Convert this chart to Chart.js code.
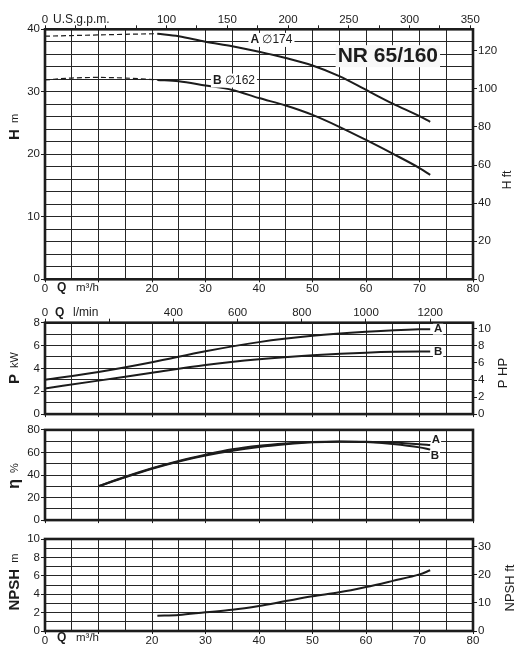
<!DOCTYPE html>
<html><head><meta charset="utf-8">
<script src="https://cdn.jsdelivr.net/npm/chart.js@4.4.0/dist/chart.umd.min.js"></script>
<style>
html,body{margin:0;padding:0;background:#fff;width:518px;height:658px;overflow:hidden}
.pn{position:absolute;left:0;width:518px}
</style></head><body>
<div class="pn" style="top:0px;height:300px"><canvas id="c1"></canvas></div>
<div class="pn" style="top:296px;height:126px"><canvas id="c2"></canvas></div>
<div class="pn" style="top:422px;height:106px"><canvas id="c3"></canvas></div>
<div class="pn" style="top:528px;height:130px"><canvas id="c4"></canvas></div>
<script>
// ---------- data ----------
const qHead      = [21, 25, 30, 35, 40, 45, 50, 55, 60, 65, 70, 72];
const headA      = [39.3, 38.9, 38.0, 37.3, 36.4, 35.4, 34.2, 32.5, 30.3, 28.1, 26.1, 25.2];
const headB      = [31.9, 31.7, 31.0, 30.3, 29.0, 27.8, 26.3, 24.4, 22.3, 20.1, 17.8, 16.7];
const qHeadDash  = [0, 5, 10, 15, 21];
const headADash  = [38.9, 39.0, 39.1, 39.2, 39.3];
const headBDash  = [31.9, 32.2, 32.3, 32.2, 31.9];

const qPower = [0, 10, 20, 30, 40, 50, 60, 70, 72];
const powerA = [3.0, 3.68, 4.53, 5.5, 6.3, 6.85, 7.2, 7.42, 7.43];
const powerB = [2.25, 2.93, 3.62, 4.3, 4.8, 5.15, 5.38, 5.47, 5.47];

const qEff = [10, 15, 20, 25, 30, 35, 40, 45, 50, 55, 60, 65, 70, 72];
const effA = [30, 38.5, 46, 52.5, 58, 62.8, 66, 68, 69.3, 69.8, 69.6, 68.8, 67.3, 66.5];
const effB = [30, 38, 45.5, 52, 57.3, 61.5, 64.8, 67.2, 69, 69.6, 69.2, 67.5, 64.5, 62.5];

const qNpsh = [21, 25, 30, 35, 40, 45, 50, 55, 60, 65, 70, 72];
const npsh  = [1.67, 1.74, 2.03, 2.3, 2.72, 3.25, 3.77, 4.2, 4.78, 5.45, 6.15, 6.6];

// ---------- axes / ticks ----------
const flowGrid   = [0,5,10,15,20,25,30,35,40,45,50,55,60,65,70,75,80];
const flowLabels = [0,20,30,40,50,60,70,80];
const flowMarks  = [0,10,20,30,40,50,60,70,80];
const gpmGrid    = [0,25,50,75,100,125,150,175,200,225,250,275,300,325,350];
const gpmLabels  = [0,100,150,200,250,300,350];
const lminGrid   = [0,200,400,600,800,1000,1200];
const lminLabels = [0,400,600,800,1000,1200];
const headGrid   = [0,2,4,6,8,10,12,14,16,18,20,22,24,26,28,30,32,34,36,38,40];
const headLabels = [0,10,20,30,40];
const headFtTicks= [0,20,40,60,80,100,120];
const powGrid    = [0,1,2,3,4,5,6,7,8];
const powLabels  = [0,2,4,6,8];
const hpTicks    = [0,2,4,6,8,10];
const effGrid    = [0,10,20,30,40,50,60,70,80];
const effLabels  = [0,20,40,60,80];
const npshGrid   = [0,1,2,3,4,5,6,7,8,9,10];
const npshLabels = [0,2,4,6,8,10];
const npshFtTicks= [0,10,20,30];

const FT_PER_M = 3.28084, HP_PER_KW = 1.34102, GPM_PER_M3H = 4.40287, LMIN_PER_M3H = 1000/60;
const Q_MAX = 80;

// ---------- style ----------
const FONT = '"Liberation Sans", Arial, Helvetica, sans-serif';
const INK = '#1c1c1c', GRID = '#262626', T = 'rgba(0,0,0,0)';
const TICKFONT = {family: FONT, size: 11.5};

function pts(xs, ys){ return xs.map((x,i)=>({x:x, y:ys[i]})); }
function setTicks(vals){ return s => { s.ticks = vals.map(v=>({value:v})); }; }

function leftAxis(min,max,grid,labels){
  return { type:'linear', position:'left', min:min, max:max,
    afterBuildTicks:setTicks(grid), afterFit:s=>{s.width=45;},
    ticks:{autoSkip:false, padding:1, color:INK, font:TICKFONT, callback:v=>labels.includes(v)?String(v):''},
    grid:{color:GRID, lineWidth:1, tickLength:4, tickColor:c=>(c.tick&&labels.includes(c.tick.value))?INK:T},
    border:{display:false}};
}
function rightAxis(max,ticks){
  return { type:'linear', position:'right', min:0, max:max,
    afterBuildTicks:setTicks(ticks), afterFit:s=>{s.width=45;},
    ticks:{autoSkip:false, padding:1, color:INK, font:TICKFONT, callback:v=>String(v)},
    grid:{drawOnChartArea:false, color:INK, lineWidth:1, tickLength:4},
    border:{display:false}};
}
function bottomAxis(h, showLabels){
  return { type:'linear', position:'bottom', min:0, max:Q_MAX,
    afterBuildTicks:setTicks(flowGrid), afterFit:s=>{s.height=h;},
    ticks:{autoSkip:false, maxRotation:0, padding:0, color:INK, font:TICKFONT,
      callback:v=>(showLabels&&flowLabels.includes(v))?String(v):''},
    grid:{color:GRID, lineWidth:1, tickLength:3, tickColor:c=>(c.tick&&flowMarks.includes(c.tick.value))?INK:T},
    border:{display:false}};
}
function topAxis(max,h,grid,labels){
  return { type:'linear', position:'top', min:0, max:max,
    afterBuildTicks:setTicks(grid), afterFit:s=>{s.height=h;},
    ticks:{autoSkip:false, maxRotation:0, padding:-1, color:INK, font:TICKFONT,
      callback:v=>labels.includes(v)?String(v):''},
    grid:{drawOnChartArea:false, color:INK, lineWidth:1, tickLength:4},
    border:{display:false}};
}

function solid(data){ return {data:data, borderColor:INK, borderWidth:2, pointRadius:0, fill:false, cubicInterpolationMode:'monotone'}; }
function dashed(data){ return {data:data, borderColor:INK, borderWidth:1.2, borderDash:[5,3], pointRadius:0, fill:false, cubicInterpolationMode:'monotone'}; }

function f(weight,size){ return (weight?'bold ':'')+size+'px '+FONT; }

function drawRich(ctx, parts, x, y, rot, anchor, bg){
  ctx.save(); ctx.translate(x,y); if(rot) ctx.rotate(rot*Math.PI/180);
  const widths = parts.map(p=>{ctx.font=p.f; return ctx.measureText(p.t).width;});
  const total = widths.reduce((a,b)=>a+b,0);
  let sx = anchor==='center' ? -total/2 : (anchor==='right' ? -total : 0);
  if(bg){ ctx.fillStyle=bg.c; ctx.fillRect(sx-bg.p, -bg.h/2, total+2*bg.p, bg.h); }
  ctx.textBaseline='middle'; ctx.fillStyle=INK; ctx.textAlign='left';
  let cx = sx;
  parts.forEach((p,i)=>{ ctx.font=p.f; ctx.fillText(p.t, cx, p.dy||0); cx+=widths[i]; });
  ctx.restore();
}

function makePlugins(pageTop, notes){
  return [{
    id:'frameNotes',
    afterDraw(chart){
      const ctx = chart.ctx, a = chart.chartArea;
      ctx.save(); ctx.strokeStyle=INK; ctx.lineWidth=2.6;
      ctx.strokeRect(a.left, a.top, a.right-a.left, a.bottom-a.top); ctx.restore();
      notes.forEach(n=>{
        let x, y;
        if(n.q!==undefined){ x = chart.scales.x.getPixelForValue(n.q); y = chart.scales.y.getPixelForValue(n.v); }
        else { x = n.px; y = n.py - pageTop; }
        drawRich(ctx, n.parts, x, y, n.rot||0, n.anchor||'left', n.bg);
      });
    }
  }];
}

function build(id, pageTop, scales, datasets, padding, notes){
  return new Chart(document.getElementById(id), {
    type:'line',
    data:{datasets:datasets},
    options:{responsive:true, maintainAspectRatio:false, animation:false, events:[],
      layout:{padding:padding},
      plugins:{legend:{display:false}, tooltip:{enabled:false}},
      scales:scales},
    plugins: makePlugins(pageTop, notes)
  });
}

const WHITE = {c:'#ffffff', p:2, h:14};

// Panel 1 : head
build('c1', 0, {
    x: bottomAxis(20.7, true),
    x2: topAxis(Q_MAX*GPM_PER_M3H, 29.3, gpmGrid, gpmLabels),
    y: leftAxis(0,40,headGrid,headLabels),
    y2: rightAxis(40*FT_PER_M, headFtTicks)
  },
  [solid(pts(qHead,headA)), solid(pts(qHead,headB)), dashed(pts(qHeadDash,headADash)), dashed(pts(qHeadDash,headBDash))],
  0,
  [
    {q:38.4, v:38.3, parts:[{t:'A ',f:f(1,12)},{t:'\u2205174',f:f(0,12)}], bg:WHITE},
    {q:31.4, v:31.8, parts:[{t:'B ',f:f(1,12)},{t:'\u2205162',f:f(0,12)}], bg:WHITE},
    {q:54.7, v:35.7, parts:[{t:'NR 65/160',f:f(1,21)}], bg:{c:'#f8f8f8',p:2,h:22}},
    {px:15, py:127, rot:-90, anchor:'center', parts:[{t:'H',f:f(1,15)},{t:'  m',f:f(0,11)}]},
    {px:508, py:180, rot:-90, anchor:'center', parts:[{t:'H ft',f:f(0,12)}]},
    {px:53, py:19.5, parts:[{t:'U.S.g.p.m.',f:f(0,12)}]},
    {px:57, py:288, parts:[{t:'Q',f:f(1,12)}]},
    {px:76, py:288, parts:[{t:'m\u00b3/h',f:f(0,11.5)}]}
  ]);

// Panel 2 : power
build('c2', 296, {
    x: bottomAxis(5.3, false),
    x2: topAxis(Q_MAX*LMIN_PER_M3H, 26.7, lminGrid, lminLabels),
    y: leftAxis(0,8,powGrid,powLabels),
    y2: rightAxis(8*HP_PER_KW, hpTicks)
  },
  [solid(pts(qPower,powerA)), solid(pts(qPower,powerB))],
  0,
  [
    {q:qPower[qPower.length-1]+0.7, v:powerA[powerA.length-1], parts:[{t:'A',f:f(1,11.5)}], bg:{c:'#fff',p:1,h:11}},
    {q:qPower[qPower.length-1]+0.7, v:powerB[powerB.length-1], parts:[{t:'B',f:f(1,11.5)}], bg:{c:'#fff',p:1,h:11}},
    {px:15, py:368, rot:-90, anchor:'center', parts:[{t:'P',f:f(1,15)},{t:'  kW',f:f(0,11)}]},
    {px:503, py:373, rot:-90, anchor:'center', parts:[{t:'P HP',f:f(0,13)}]},
    {px:55, py:312.5, parts:[{t:'Q',f:f(1,12)}]},
    {px:73, py:312.5, parts:[{t:'l/min',f:f(0,12)}]}
  ]);

// Panel 3 : efficiency
build('c3', 422, {
    x: bottomAxis(6.3, false),
    y: leftAxis(0,80,effGrid,effLabels)
  },
  [solid(pts(qEff,effA)), solid(pts(qEff,effB))],
  {top:6.3, right:45},
  [
    {q:72.3, v:71.4, parts:[{t:'A',f:f(1,11.5)}], bg:{c:'#fff',p:1,h:11}},
    {q:72.1, v:57.1, parts:[{t:'B',f:f(1,11.5)}], bg:{c:'#fff',p:1,h:11}},
    {px:15, py:476, rot:-90, anchor:'center', parts:[{t:'\u03b7',f:f(1,16)},{t:'  %',f:f(0,11)}]}
  ]);

// Panel 4 : NPSH
build('c4', 528, {
    x: bottomAxis(27, true),
    y: leftAxis(0,10,npshGrid,npshLabels),
    y2: rightAxis(10*FT_PER_M, npshFtTicks)
  },
  [solid(pts(qNpsh,npsh))],
  {top:11},
  [
    {px:15, py:582, rot:-90, anchor:'center', parts:[{t:'NPSH',f:f(1,15)},{t:'  m',f:f(0,11)}]},
    {px:510, py:588, rot:-90, anchor:'center', parts:[{t:'NPSH ft',f:f(0,13)}]},
    {px:57, py:638, parts:[{t:'Q',f:f(1,12)}]},
    {px:76, py:638, parts:[{t:'m\u00b3/h',f:f(0,11.5)}]}
  ]);
</script>
</body></html>
